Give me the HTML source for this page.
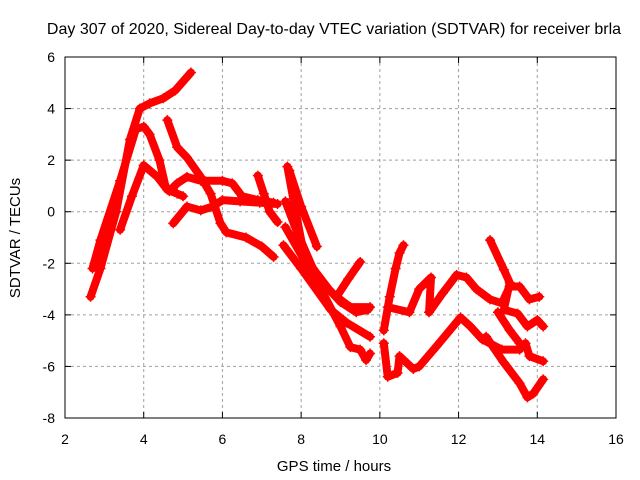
<!DOCTYPE html>
<html><head><meta charset="utf-8"><style>
html,body{margin:0;padding:0;background:#fff;}
svg{display:block;font-family:"Liberation Sans",sans-serif;}
</style></head><body>
<svg id="chart" width="640" height="480">
<text x="334" y="34" font-size="16" text-anchor="middle">Day 307 of 2020, Sidereal Day-to-day VTEC variation (SDTVAR) for receiver brla</text>
<text x="334" y="471" font-size="15" text-anchor="middle">GPS time / hours</text>
<text transform="translate(20,238) rotate(-90)" font-size="15" text-anchor="middle">SDTVAR / TECUs</text>
<g id="grid"></g>
<g id="series"></g>
<rect x="65" y="57" width="551" height="361" fill="none" stroke="#000" stroke-width="1"/>
<g id="ticks"></g>
</svg>
<script>
const xTicks=[2,4,6,8,10,12,14,16];
const yTicks=[-8,-6,-4,-2,0,2,4,6];
const trackA_h=[2.65,2.9,3.3,3.65,3.9,4.15,4.5,4.8,5.2];
const trackA_v=[-3.3,-2.2,0.0,2.8,4.0,4.2,4.4,4.7,5.4];
const trackB_h=[2.7,2.9,3.4,3.8,4.0,4.15,4.4,4.55,4.65,4.85,5.1,5.45,6.0,6.25,6.5,6.9,7.3];
const trackB_v=[-2.2,-1.1,1.2,3.2,3.3,3.0,2.0,1.0,0.8,1.1,1.35,1.2,1.2,1.1,0.6,0.45,0.35];
const trackC_h=[3.4,3.7,4.0,4.35,4.6,4.85,5.0];
const trackC_v=[-0.7,0.6,1.8,1.35,0.85,0.7,0.6];
const trackD_h=[4.6,4.85,5.1,5.45,5.7,5.95,6.1,6.6,7.0,7.3];
const trackD_v=[3.55,2.5,2.1,1.35,0.7,-0.45,-0.8,-1.0,-1.35,-1.75];
const trackE_h=[4.75,5.1,5.45,5.75,6.0,6.45,6.95,7.4];
const trackE_v=[-0.45,0.2,0.05,0.2,0.45,0.4,0.35,0.3];
const trackF_h=[6.9,7.05,7.2,7.4];
const trackF_v=[1.4,0.7,0.0,-0.4];
const trackG_h=[7.65,7.8,8.05,8.5,8.9,9.25,9.75];
const trackG_v=[1.75,0.5,-1.5,-2.75,-3.3,-3.7,-3.7];
const trackG2_h=[8.9,9.2,9.5];
const trackG2_v=[-3.3,-2.6,-1.95];
const trackH_h=[7.7,8.0,8.4];
const trackH_v=[1.6,0.2,-1.35];
const trackI_h=[7.55,8.0,8.75,9.15,9.75];
const trackI_v=[-1.3,-2.2,-3.8,-4.3,-4.85];
const trackJ_h=[7.6,8.5,9.0,9.25,9.5,9.65,9.75];
const trackJ_v=[-0.6,-3.0,-4.45,-5.25,-5.35,-5.75,-5.5];
const trackK_h=[10.1,10.2,10.45,10.5,10.85,11.0,11.45,12.05,12.3,12.6,13.1,13.55,13.7,13.8,14.15];
const trackK_v=[-5.1,-6.4,-6.25,-5.6,-6.1,-6.0,-5.2,-4.1,-4.45,-4.95,-5.35,-5.35,-5.1,-5.6,-5.8];
const trackL_h=[10.1,10.25,10.4,10.5,10.6];
const trackL_v=[-4.6,-3.3,-2.2,-1.6,-1.3];
const trackM_h=[10.2,10.75,11.0,11.3,11.25,11.6,11.95,12.2,12.45,12.8,13.1,13.3,13.55,13.8,14.05];
const trackM_v=[-3.7,-3.9,-3.0,-2.55,-3.9,-3.15,-2.45,-2.55,-3.0,-3.4,-3.55,-2.9,-2.9,-3.4,-3.3];
const trackN_h=[12.8,13.15,13.3,13.15,13.5,13.75,14.0,14.15];
const trackN_v=[-1.1,-2.25,-2.75,-3.8,-3.95,-4.45,-4.2,-4.45];
const trackO_h=[13.0,13.3,13.55];
const trackO_v=[-3.9,-4.6,-5.1];
const trackP_h=[12.7,13.15,13.55,13.75,13.9,14.15];
const trackP_v=[-4.85,-5.85,-6.65,-7.2,-7.05,-6.5];
const trackQ_h=[7.6,7.9,8.3,8.7,9.0,9.4,9.7];
const trackQ_v=[0.4,-0.8,-2.2,-3.0,-3.5,-3.9,-3.8];
const tracks=[[trackA_h,trackA_v],[trackB_h,trackB_v],[trackC_h,trackC_v],[trackD_h,trackD_v],[trackE_h,trackE_v],[trackF_h,trackF_v],[trackG_h,trackG_v],[trackG2_h,trackG2_v],[trackH_h,trackH_v],[trackI_h,trackI_v],[trackJ_h,trackJ_v],[trackK_h,trackK_v],[trackL_h,trackL_v],[trackM_h,trackM_v],[trackN_h,trackN_v],[trackO_h,trackO_v],[trackP_h,trackP_v],[trackQ_h,trackQ_v]];

const NS="http://www.w3.org/2000/svg";
const L=65,R=616,T=57,B=418;
function xs(h){return L+(h-2)/(16-2)*(R-L);}
function ys(v){return T+(6-v)/(6+8)*(B-T);}
function mk(tag,attrs,parent){const e=document.createElementNS(NS,tag);for(const k in attrs)e.setAttribute(k,attrs[k]);parent.appendChild(e);return e;}
const grid=document.getElementById('grid'),ticks=document.getElementById('ticks'),series=document.getElementById('series');
xTicks.forEach(t=>{
  const x=xs(t);
  if(t>2&&t<16){const g=mk('line',{x1:x,x2:x,y1:T,y2:B,stroke:'#a0a0a0','stroke-dasharray':'3,3'},grid);
  
  }
  mk('line',{x1:x,x2:x,y1:B,y2:B-6,stroke:'#000'},ticks);
  mk('line',{x1:x,x2:x,y1:T,y2:T+6,stroke:'#000'},ticks);
  const tx=mk('text',{x:x,y:B+26,'font-size':14,'text-anchor':'middle'},ticks);tx.textContent=t;
  
  
});
yTicks.forEach(t=>{
  const y=ys(t);
  if(t>-8&&t<6){const g=mk('line',{x1:L,x2:R,y1:y,y2:y,stroke:'#a0a0a0','stroke-dasharray':'3,3'},grid);
  
  }
  mk('line',{x1:L,x2:L+6,y1:y,y2:y,stroke:'#000'},ticks);
  mk('line',{x1:R,x2:R-6,y1:y,y2:y,stroke:'#000'},ticks);
  const tx=mk('text',{x:L-10,y:y+5,'font-size':14,'text-anchor':'end'},ticks);tx.textContent=t;
  
  
});
tracks.forEach((tr,i)=>{
  const hs=tr[0],vs=tr[1];
  const pts=hs.map((h,j)=>xs(h)+','+ys(vs[j])).join(' ');
  const pl=mk('polyline',{points:pts,fill:'none',stroke:'#ff0000','stroke-width':8,'stroke-linejoin':'round','stroke-linecap':'round'},series);
  
  
  hs.forEach((h,j)=>{
    const x=xs(h),y=ys(vs[j]);
    const p=mk('path',{d:`M${x-5},${y}H${x+5}M${x},${y-5}V${y+5}`,stroke:'#ff0000','stroke-width':1.5},series);
    
    
  });
});
</script>
</body></html>
